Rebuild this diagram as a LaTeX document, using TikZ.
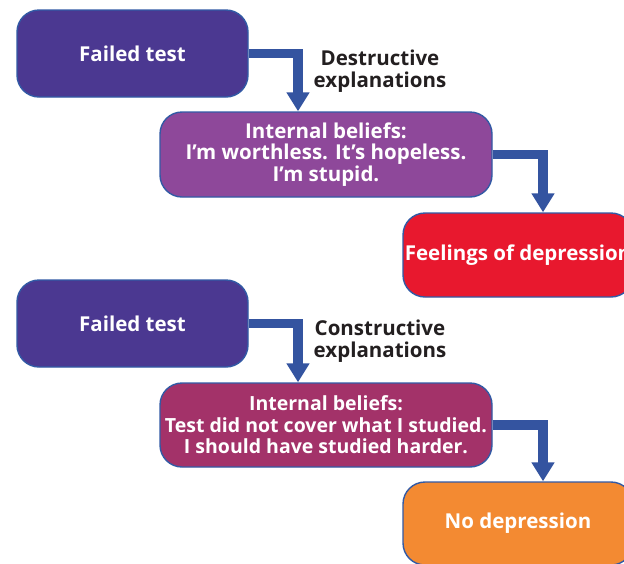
\documentclass[tikz,border=0pt]{standalone}
\usepackage{fontspec}
\setmainfont{Open Sans}
\usetikzlibrary{arrows.meta}
\definecolor{testcol}{RGB}{75,56,145}
\definecolor{badcol}{RGB}{142,72,154}
\definecolor{goodcol}{RGB}{163,50,105}
\definecolor{deprcol}{RGB}{232,24,46}
\definecolor{nodeprcol}{RGB}{243,138,50}
\definecolor{edgecol}{RGB}{50,90,165}
\definecolor{flowcol}{RGB}{52,84,160}
\definecolor{labelcol}{RGB}{35,31,32}

\begin{document}
\begin{tikzpicture}[x=1pt,y=-1pt]

% styles
\tikzset{
  stage/.style={draw=edgecol, line width=1.4pt, rounded corners=22pt,
    inner sep=0pt, align=center, text=white,
    font=\fontsize{20.5}{21.5}\selectfont\bfseries},
  why/.style={inner sep=0pt, align=center, text=labelcol,
    font=\fontsize{20.5}{21.5}\selectfont\bfseries},
  flow/.style={draw=flowcol, line width=9.5pt, miter limit=10,
    -{Triangle[width=22pt,length=19pt]}},
}

\useasboundingbox (0,0) rectangle (624,563);
\fill[white] (0,0) rectangle (624,563);
\clip (0,0) rectangle (624,563);

% ---------------- Destructive: ----------------
\node[stage, fill=testcol, minimum width=231pt, minimum height=87pt]
  (ft1) at (132.5,53.5) {Failed test};
\node[stage, fill=badcol, minimum width=332pt, minimum height=85pt]
  (ib1) at (326,154.5) {Internal beliefs:\\I’m worthless. It’s hopeless.\\I’m stupid.};
\node[stage, fill=deprcol, minimum width=230pt, minimum height=84pt]
  (fd) at (518,255) {Feelings of depression};
\node[why] (lb1) at (380,71) {Destructive\\explanations};

\draw[flow] (ft1.east) -| ([xshift=-28pt]ib1.north);
\draw[flow] (ib1.east) -| ([xshift=25pt]fd.north);

% ---------------- Constructive: ----------------
\node[stage, fill=testcol, minimum width=231pt, minimum height=87pt]
  (ft2) at (132.5,323.5) {Failed test};
\node[stage, fill=goodcol, minimum width=332pt, minimum height=84pt,
  font=\fontsize{19.5}{21.5}\selectfont\bfseries]
  (ib2) at (326,425) {Internal beliefs:\\Test did not cover what I studied.\\I should have studied harder.};
\node[stage, fill=nodeprcol, minimum width=230pt, minimum height=83pt]
  (nd) at (518,523.5) {No depression};
\node[why] (lb2) at (380,341) {Constructive\\explanations};

\draw[flow] (ft2.east) -| ([xshift=-28pt]ib2.north);
\draw[flow] (ib2.east) -| ([xshift=25pt]nd.north);

\end{tikzpicture}
\end{document}
